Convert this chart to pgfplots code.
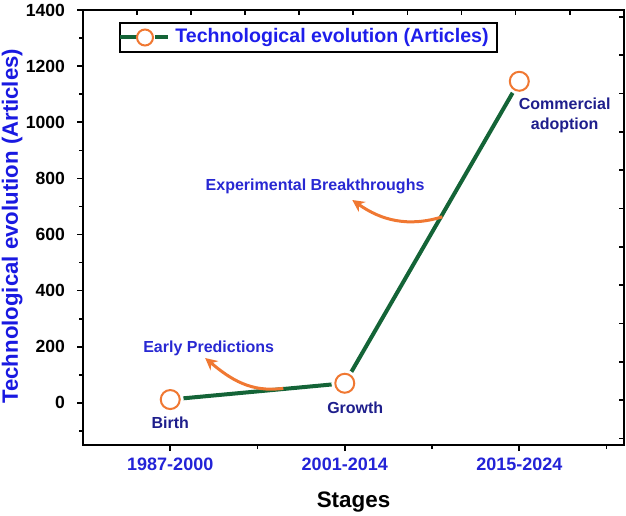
\documentclass[border=0pt]{standalone}
\usepackage{pgfplots}
\pgfplotsset{compat=1.18}
\usepackage{fontspec}
\setmainfont{Liberation Sans}
\usetikzlibrary{arrows.meta}
\definecolor{tickblue}{RGB}{35,35,215}
\definecolor{ylblue}{RGB}{25,25,225}
\definecolor{legblue}{RGB}{30,30,235}
\definecolor{annodark}{RGB}{30,30,140}
\definecolor{annoblue}{RGB}{40,40,210}
\definecolor{gdark}{RGB}{20,100,55}
\definecolor{orangec}{RGB}{240,120,50}
\begin{document}
\begin{tikzpicture}
\begin{axis}[
  name=main,
  scale only axis, width=270.5pt, height=217.5pt,
  xmin=-0.5, xmax=2.6, ymin=-150, ymax=1400,
  xtick={0,1,2}, xticklabels={1987-2000,2001-2014,2015-2024},
  minor xtick={0.5,1.5,2.5},
  ytick={0,200,...,1400}, minor ytick={-100,100,300,500,700,900,1100,1300},
  tick pos=left,
  tick align=outside,
  major tick length=3pt, minor tick length=2pt,
  axis line style={line width=1pt},
  every tick/.style={black, line width=0.8pt},
  xticklabel style={font=\fontsize{9}{10}\selectfont\bfseries, text=tickblue},
  yticklabel style={font=\fontsize{8.8}{10}\selectfont\bfseries, xshift=-2.5pt},
  /pgf/number format/assume math mode=true,
  /pgf/number format/1000 sep={},
  ylabel={Technological evolution (Articles)},
  ylabel style={font=\fontsize{11.1}{13}\selectfont\bfseries, text=ylblue, at={(axis description cs:-0.131,0.503)}, anchor=center},
  xlabel={Stages},
  xlabel style={font=\fontsize{11.2}{13}\selectfont\bfseries, at={(axis description cs:0.5,-0.131)}, anchor=center},
  clip=false,
]
\addplot[gdark, line width=2pt] coordinates {(0,12) (1,70) (2,1146)};
\addplot[only marks, mark=*, mark size=6.5pt, draw=white, fill=white] coordinates {(0,12) (1,70) (2,1146)};
\addplot[only marks, mark=o, mark size=4.75pt, orangec, mark options={line width=1pt}] coordinates {(0,12) (1,70) (2,1146)};

% legend (drawn by hand)
\draw[line width=0.6pt, fill=white] (rel axis cs:0.0684,0.9034) rectangle (rel axis cs:0.7652,0.9701);
\draw[gdark, line width=2pt] (rel axis cs:0.0684,0.9368) -- (rel axis cs:0.0998,0.9368);
\draw[gdark, line width=2pt] (rel axis cs:0.1331,0.9368) -- (rel axis cs:0.1571,0.9368);
\draw[orangec, line width=1pt] (rel axis cs:0.1146,0.9368) circle[radius=4pt];
\node[anchor=west, inner sep=0pt, font=\fontsize{9.8}{11}\selectfont\bfseries, text=legblue] at (rel axis cs:0.1700,0.9368) {Technological evolution (Articles)};

\node[font=\fontsize{8}{9.5}\selectfont\bfseries, text=annodark] at (axis cs:0,-72) {Birth};
\node[font=\fontsize{8}{9.5}\selectfont\bfseries, text=annodark] at (axis cs:1.06,-19) {Growth};
\node[font=\fontsize{8}{10}\selectfont\bfseries, text=annodark, align=center] at (axis cs:2.26,1025) {Commercial\\adoption};
\node[font=\fontsize{8}{9.5}\selectfont\bfseries, text=annoblue] at (axis cs:0.83,770) {Experimental Breakthroughs};
\node[font=\fontsize{8}{9.5}\selectfont\bfseries, text=annoblue] at (axis cs:0.22,195) {Early Predictions};
\draw[orangec, line width=1.5pt, -{Stealth[length=6pt,width=6pt]}] (axis cs:0.648,52) to[out=188,in=-40] (axis cs:0.20,160);
\draw[orangec, line width=1.5pt, -{Stealth[length=6pt,width=6pt]}] (axis cs:1.559,663) to[out=197,in=-35] (axis cs:1.043,723);
\coordinate (bbsw) at (rel axis cs:0,0);
\coordinate (bbne) at (rel axis cs:1,1);
\end{axis}
\begin{axis}[
  scale only axis, width=270.5pt, height=217.5pt,
  xmin=83, xmax=624, ymin=-445, ymax=-10,
  axis x line*=top, axis y line*=right,
  axis line style={-, line width=1pt},
  tick align=inside,
  xtick={136.8,190.9,245,299.1,353.2,407.3,461.4,515.5,569.6},
  ytick={-17,-55.3,-93.6,-131.9,-170.2,-208.5,-246.8,-285.1,-323.4,-361.7,-400,-438.3},
  xticklabels={}, yticklabels={},
  major tick length=2.5pt,
  every tick/.style={black, line width=0.8pt},
]
\end{axis}
\pgfresetboundingbox
\path ([shift={(-41.5pt,-35pt)}]bbsw) rectangle ([shift={(1pt,5pt)}]bbne);
\end{tikzpicture}
\end{document}
